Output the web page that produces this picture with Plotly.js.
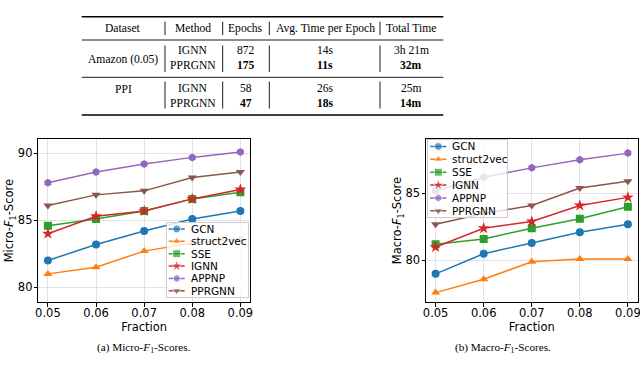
<!DOCTYPE html>
<html>
<head>
<meta charset="utf-8">
<script src="https://cdn.plot.ly/plotly-3.0.1.min.js"></script>
<style>
html, body { margin: 0; padding: 0; background: #fff; }
#chart { width: 640px; height: 374px; }
</style>
</head>
<body>
<div id="chart"></div>
<script>
// x values and tick labels
var fractions = [0.05, 0.06, 0.07, 0.08, 0.09];
var fractionLabels = ['0.05', '0.06', '0.07', '0.08', '0.09'];

var methods = ['GCN', 'struct2vec', 'SSE', 'IGNN', 'APPNP', 'PPRGNN'];

// Micro-F1 (left)
var gcnMicro = [82.0, 83.2, 84.2, 85.1, 85.7];
var s2vMicro = [81.0, 81.5, 82.7, 83.3, 83.6];
var sseMicro = [84.6, 85.1, 85.7, 86.6, 87.1];
var ignnMicro = [84.0, 85.3, 85.7, 86.6, 87.3];
var appnpMicro = [87.8, 88.6, 89.2, 89.7, 90.1];
var pprgnnMicro = [86.1, 86.9, 87.2, 88.2, 88.6];

// Macro-F1 (right)
var gcnMacro = [79.0, 80.5, 81.3, 82.1, 82.7];
var s2vMacro = [77.6, 78.6, 79.9, 80.1, 80.1];
var sseMacro = [81.2, 81.6, 82.4, 83.1, 84.0];
var ignnMacro = [81.0, 82.4, 82.9, 84.1, 84.7];
var appnpMacro = [85.2, 86.2, 86.9, 87.5, 88.0];
var pprgnnMacro = [82.7, 83.5, 84.1, 85.4, 85.9];

var microTicks = [80, 85, 90];
var macroTicks = [80, 85];

// table contents
var tableHeader = ['Dataset', 'Method', 'Epochs', 'Avg. Time per Epoch', 'Total Time'];
var datasets = ['Amazon (0.05)', 'PPI'];
var tableMethods = ['IGNN', 'PPRGNN'];
var epochs = [['872', '175'], ['58', '47']];
var avgTime = [['14s', '11s'], ['26s', '18s']];
var totalTime = [['3h 21m', '32m'], ['25m', '14m']];

var colors = ['#1f77b4', '#ff7f0e', '#2ca02c', '#d62728', '#9467bd', '#8c564b'];
var symbols = ['circle', 'triangle-up', 'square', 'star', 'hexagon', 'triangle-down'];
var microSeries = [gcnMicro, s2vMicro, sseMicro, ignnMicro, appnpMicro, pprgnnMicro];
var macroSeries = [gcnMacro, s2vMacro, sseMacro, ignnMacro, appnpMacro, pprgnnMacro];

// page pixels -> paper coords
function px(x) { return x / 640; }
function py(y) { return 1 - y / 374; }

var sans = 'DejaVu Sans, sans-serif';
var serif = 'Liberation Serif, Times New Roman, serif';

var data = [];
function addSeries(series, xa, ya) {
    series.forEach(function(vals, i) {
        data.push({
            x: fractions, y: vals, xaxis: xa, yaxis: ya,
            type: 'scatter', mode: 'lines+markers', name: methods[i],
            line: {color: colors[i], width: 1.5},
            marker: {symbol: symbols[i], color: colors[i], size: symbols[i] == 'star' ? 9 : 8},
            showlegend: false
        });
    });
}
addSeries(microSeries, 'x', 'y');
addSeries(macroSeries, 'x2', 'y2');

// hand-made legends (plotly legend rows are too tall here)
var annotations = [];
function addLegend(xa, ya) {
    methods.forEach(function(m, i) {
        data.push({
            x: [2, 10, 18], y: [i, i, i], xaxis: xa, yaxis: ya,
            type: 'scatter', mode: 'lines+markers',
            line: {color: colors[i], width: 1.5},
            marker: {symbol: symbols[i], color: colors[i], size: [0, symbols[i] == 'star' ? 9 : 8, 0]},
            showlegend: false, hoverinfo: 'skip'
        });
        annotations.push({
            xref: xa, yref: ya, x: 22, y: i, text: m, showarrow: false,
            xanchor: 'left', yanchor: 'middle', font: {family: sans, size: 10.5, color: '#000'}
        });
    });
}
addLegend('x3', 'y3');
addLegend('x4', 'y4');

function note(x, y, text, size, xanchor) {
    annotations.push({
        xref: 'paper', yref: 'paper', x: px(x), y: py(y), text: text, showarrow: false,
        xanchor: xanchor || 'center', yanchor: 'middle',
        font: {family: serif, size: size, color: '#000'}
    });
}

// table text
var colX = [123.3, 193.3, 245.7, 325, 411];
tableHeader.forEach(function(h, i) { note(colX[i], 28.5, h, 11.6); });
var datasetY = [60, 90];
var rowY = [[51, 65], [88.5, 103]];
datasets.forEach(function(d, k) {
    note(colX[0], datasetY[k], d, 11.6);
    tableMethods.forEach(function(m, j) {
        var b = function(s) { return j == 1 ? '<b>' + s + '</b>' : s; };
        note(colX[1], rowY[k][j], m, 11.6);
        note(colX[2], rowY[k][j], b(epochs[k][j]), 11.6);
        note(colX[3], rowY[k][j], b(avgTime[k][j]), 11.6);
        note(colX[4], rowY[k][j], b(totalTime[k][j]), 11.6);
    });
});

// captions
note(144, 348, '(a) Micro-<i>F</i><sub>1</sub>-Scores.', 11.2);
note(503, 348, '(b) Macro-<i>F</i><sub>1</sub>-Scores.', 11.2);
note(0, 378, 'Figure 4: Comparison of the results on the Amazon dataset. The fraction of labels used for training is varied in the experiments.', 11, 'left');

// table rules
var shapes = [];
function hline(y, w) {
    shapes.push({type: 'line', xref: 'paper', yref: 'paper', x0: px(81.7), x1: px(443.3),
        y0: py(y), y1: py(y), line: {color: '#000', width: w}});
}
hline(16.7, 1.5); hline(40, 0.9); hline(77.3, 0.9); hline(115, 1.5);
var barX = [165, 222.7, 269.3, 380];
var barSpans = [[21.7, 35], [45.5, 72], [81.5, 108.5]];
barX.forEach(function(x) {
    barSpans.forEach(function(s) {
        shapes.push({type: 'line', xref: 'paper', yref: 'paper', x0: px(x), x1: px(x),
            y0: py(s[0]), y1: py(s[1]), line: {color: '#000', width: 0.9}});
    });
});

function mainX(dom) {
    return {
        domain: dom, range: [0.048, 0.092], tickvals: fractions, ticktext: fractionLabels,
        showline: true, mirror: true, linecolor: '#000', linewidth: 1,
        ticks: 'outside', ticklen: 3.5, tickcolor: '#000', showgrid: true, gridcolor: '#e3e3e3',
        zeroline: false, tickfont: {family: sans, size: 11.5, color: '#000'},
        ticklabeloverflow: 'allow', ticklabelstandoff: -3,
        title: {text: 'Fraction', font: {family: sans, size: 11.5, color: '#000'}, standoff: 0}
    };
}
function mainY(range, ticks, label) {
    return {
        domain: [py(302), py(139.3)], range: range, tickvals: ticks,
        showline: true, mirror: true, linecolor: '#000', linewidth: 1,
        ticks: 'outside', ticklen: 3.5, tickcolor: '#000', showgrid: true, gridcolor: '#e3e3e3',
        zeroline: false, tickfont: {family: sans, size: 11.5, color: '#000'},
        ticklabeloverflow: 'allow', ticklabelstandoff: -1,
        title: {text: label, font: {family: sans, size: 11.5, color: '#000'}, standoff: 0}
    };
}
function legendAxis(dom, range) {
    return {
        domain: dom, range: range, showgrid: false, zeroline: false, showticklabels: false,
        ticks: '', showline: true, mirror: true, linecolor: '#cccccc', linewidth: 1, fixedrange: true
    };
}

var layout = {
    width: 640, height: 374,
    margin: {l: 0, r: 0, t: 0, b: 0},
    paper_bgcolor: '#fff', plot_bgcolor: 'rgba(255,255,255,0.8)',
    showlegend: false,
    xaxis: Object.assign(mainX([px(38.3), px(250)]), {anchor: 'y'}),
    yaxis: Object.assign(mainY([78.9, 91.05], microTicks, 'Micro-<i>F</i><sub>1</sub>-Score'), {anchor: 'x'}),
    xaxis2: Object.assign(mainX([px(426), px(637.5)]), {anchor: 'y2'}),
    yaxis2: Object.assign(mainY([76.9, 89.03], macroTicks, 'Macro-<i>F</i><sub>1</sub>-Score'), {anchor: 'x2'}),
    xaxis3: Object.assign(legendAxis([px(166.7), px(248)], [0, 81.3]), {anchor: 'y3'}),
    yaxis3: Object.assign(legendAxis([py(297), py(222.7)], [5.5, -0.5]), {anchor: 'x3'}),
    xaxis4: Object.assign(legendAxis([px(428.3), px(506.7)], [0, 78.4]), {anchor: 'y4'}),
    yaxis4: Object.assign(legendAxis([py(217.3), py(140)], [5.5, -0.5]), {anchor: 'x4'}),
    annotations: annotations,
    shapes: shapes
};

Plotly.newPlot('chart', data, layout, {staticPlot: true});
</script>
</body>
</html>
